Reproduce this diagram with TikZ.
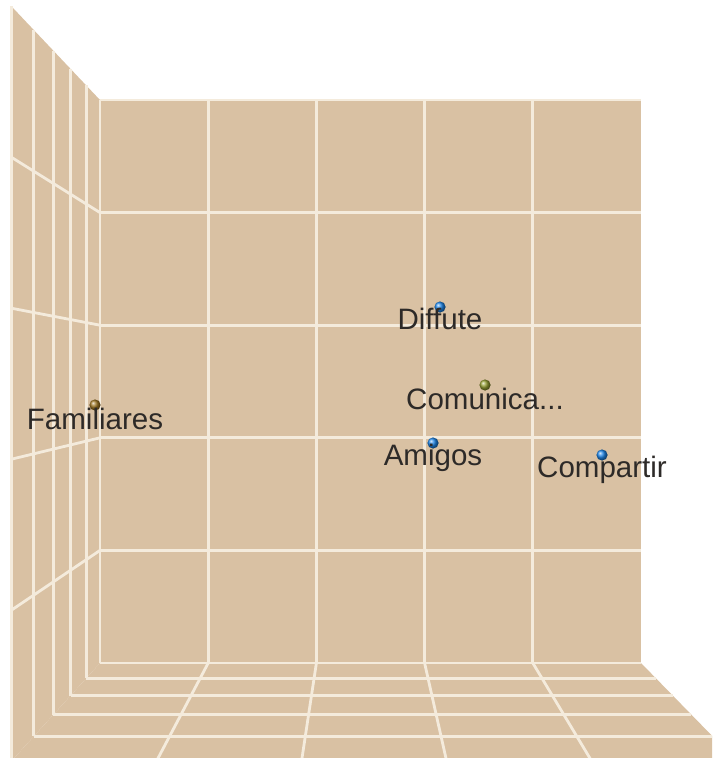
\documentclass[tikz,border=0pt]{standalone}
\usepackage{fontspec}
\setmainfont{Liberation Sans}
\usetikzlibrary{calc,positioning,shadings}
\definecolor{wallc}{RGB}{217,193,163}
\definecolor{gridc}{RGB}{244,235,220}
\definecolor{lblc}{RGB}{45,42,40}
\definecolor{bluec}{RGB}{30,135,235}
\definecolor{olivec}{RGB}{150,160,50}
\definecolor{brownc}{RGB}{160,120,35}
\tikzset{
    wall/.style={
    fill=wallc,draw=none
    },
    gridline/.style={
    draw=gridc,line width=0.7mm
    },
    pt/.style={
    circle,inner sep=0pt,minimum size=2.8mm
    },
    lbl/.style={
    inner sep=0pt,text=lblc,font=\fontsize{21}{25}\selectfont
    },
}
\begin{document}
\begin{tikzpicture}[x=0.25mm, y=-0.25mm]
   \useasboundingbox (0,0) rectangle (712,758);
   \clip (0,0) rectangle (712,758);
   \coordinate (vp) at (360,375);
   \def\sf{1.34}

   \fill[wall] (100,100) rectangle (641,663);
   \fill[wall] (100,100) -- (100,663) -- ($(vp)!\sf!(100,663)$) -- ($(vp)!\sf!(100,100)$) -- cycle;
   \fill[wall] (100,663) -- (641,663) -- ($(vp)!\sf!(641,663)$) -- ($(vp)!\sf!(100,663)$) -- cycle;

   \foreach \i in {0,...,4}{
     \pgfmathsetmacro\gx{100+108.2*\i}
     \pgfmathsetmacro\gy{100+112.6*\i}
     \draw[gridline] (\gx,100) -- (\gx,663);
     \draw[gridline] (100,\gy) -- (641,\gy);
   }
   \foreach \i in {1,...,4}{
     \pgfmathsetmacro\gx{100+108.2*\i}
     \pgfmathsetmacro\gy{100+112.6*\i}
     \draw[gridline] (\gx,663) -- ($(vp)!\sf!(\gx,663)$);
     \draw[gridline] (100,\gy) -- ($(vp)!\sf!(100,\gy)$);
   }
   \foreach \d in {0,...,5}{
     \pgfmathsetmacro\s{1/(1-(1-1/\sf)/5*\d)}
     \draw[gridline] ($(vp)!\s!(100,100)$) -- ($(vp)!\s!(100,663)$);
     \draw[gridline] ($(vp)!\s!(100,663)$) -- ($(vp)!\s!(641,663)$);
   }

   \node[pt,ball color=bluec] (dDif) at (440,307) {};
   \node[pt,ball color=olivec] (dCom) at (485,385) {};
   \node[pt,ball color=bluec] (dAmi) at (433,443) {};
   \node[pt,ball color=bluec] (dCmp) at (602,455) {};
   \node[pt,ball color=brownc] (dFam) at (95,405) {};

   \node[lbl,below=-1.2mm of dDif] (lDif) {Diffute};
   \node[lbl,below=-0.7mm of dCom] (lCom) {Comunica...};
   \node[lbl,below=-1.2mm of dAmi] (lAmi) {Amigos};
   \node[lbl,below=-1.2mm of dCmp] (lCmp) {Compartir};
   \node[lbl,below=-0.7mm of dFam] (lFam) {Familiares};
\end{tikzpicture}
\end{document}
